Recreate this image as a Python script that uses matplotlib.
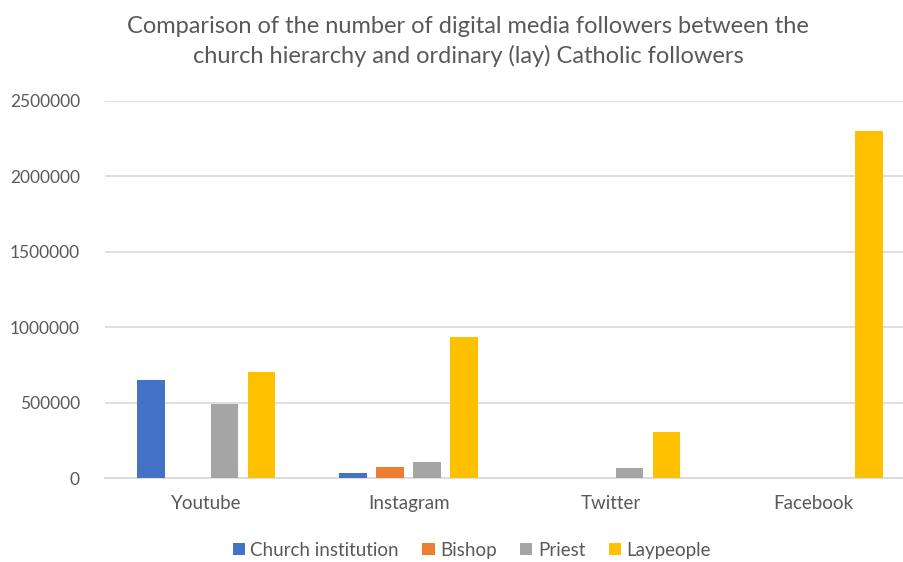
import matplotlib
matplotlib.use("Agg")
import matplotlib.pyplot as plt
import numpy as np

platforms = ["Youtube", "Instagram", "Twitter", "Facebook"]
series_names = ["Church institution", "Bishop", "Priest", "Laypeople"]
church = [648000, 37000, 0, 0]
bishop = [0, 73000, 0, 0]
priest = [492000, 106000, 70000, 0]
laypeople = [706000, 938000, 303000, 2300000]
colors = ["#4472C4", "#ED7D31", "#A5A5A5", "#FFC000"]
yticks = [0, 500000, 1000000, 1500000, 2000000, 2500000]

plt.rcParams["font.family"] = ["Lato", "DejaVu Sans"]
text_color = "#595959"

fig = plt.figure(figsize=(9.04, 5.62), dpi=100)
ax = fig.add_axes([0.116, 0.149, 0.896, 0.672])

x = np.arange(len(platforms))
pitch = 0.182
width = 0.137
for i, (name, vals) in enumerate(zip(series_names, [church, bishop, priest, laypeople])):
    ax.bar(x + (i - 1.5) * pitch, vals, width, color=colors[i], label=name, zorder=3)

ax.set_xlim(-0.5, len(platforms) - 0.5)
ax.set_ylim(0, 2500000)
ax.set_yticks(yticks)
ax.set_yticklabels([str(v) for v in yticks])
ax.set_xticks(x)
ax.set_xticklabels(platforms)
ax.tick_params(axis="both", length=0, labelcolor=text_color)
ax.tick_params(axis="y", pad=18, labelsize=12.5)
ax.tick_params(axis="x", pad=12, labelsize=13.5)
ax.grid(True, axis="y", color="#D9D9D9", lw=1.2, zorder=0)
for s in ["top", "right", "left"]:
    ax.spines[s].set_visible(False)
ax.spines["bottom"].set_color("#D9D9D9")
ax.spines["bottom"].set_linewidth(1.2)

fig.text(0.518, 0.926,
         "Comparison of the number of digital media followers between the\n"
         "church hierarchy and ordinary (lay) Catholic followers",
         ha="center", va="center", fontsize=17, color=text_color, linespacing=1.45)

fig.legend(loc="center", bbox_to_anchor=(0.522, 0.021), ncol=4, frameon=False,
           fontsize=13.5, labelcolor=text_color, handlelength=0.65, handleheight=0.65,
           handletextpad=0.3, columnspacing=1.25)

fig.savefig("out.png", dpi=100)
